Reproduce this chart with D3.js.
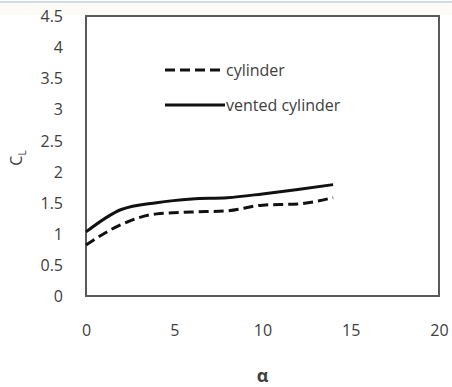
<!DOCTYPE html>
<html>
<head>
<meta charset="utf-8">
<script src="https://cdn.jsdelivr.net/npm/d3@7"></script>
<style>
  body { margin: 0; background: #fff; }
  svg text { font-family: "Open Sans", "Liberation Sans", sans-serif; fill: #404040; }
</style>
</head>
<body>
<svg width="452" height="387"></svg>
<script>
// angle of attack
const alpha = [0, 2, 4, 6, 8, 10, 12, 14];
const cylinder = [0.82, 1.15, 1.32, 1.35, 1.37, 1.46, 1.48, 1.58];
const ventedCylinder = [1.03, 1.39, 1.50, 1.56, 1.58, 1.64, 1.71, 1.79];
const xTicks = [0, 5, 10, 15, 20];
const yTicks = [0, 0.5, 1, 1.5, 2, 2.5, 3, 3.5, 4, 4.5];
const seriesNames = ['cylinder', 'vented cylinder'];

const svg = d3.select('svg');
const plotL = 86, plotR = 439, plotT = 16, plotB = 296;

// thin rule along the top edge
svg.append('rect').attr('x', 0).attr('y', 3).attr('width', 452).attr('height', 12).attr('fill', '#fdfbf7');
svg.append('line').attr('x1', 0).attr('x2', 452).attr('y1', 2).attr('y2', 2)
  .attr('stroke', '#c3cfdb').attr('stroke-width', 1.5);

const x = d3.scaleLinear().domain([0, 20]).range([plotL, plotR]);
const y = d3.scaleLinear().domain([0, 4.5]).range([plotB, plotT]);

svg.append('rect')
  .attr('x', plotL).attr('y', plotT)
  .attr('width', plotR - plotL).attr('height', plotB - plotT)
  .attr('fill', 'none').attr('stroke', '#5a5a5a').attr('stroke-width', 2);

const yAxis = svg.append('g')
  .attr('transform', `translate(${plotL - 20},0)`)
  .call(d3.axisLeft(y).tickValues(yTicks).tickSize(0).tickFormat(d => d));
yAxis.select('.domain').remove();
yAxis.selectAll('text').attr('font-size', 16).attr('dy', '0.35em');

const xAxis = svg.append('g')
  .attr('transform', `translate(0,${plotB + 26})`)
  .call(d3.axisBottom(x).tickValues(xTicks).tickSize(0));
xAxis.select('.domain').remove();
xAxis.selectAll('text').attr('font-size', 16).attr('dy', '0.71em');

svg.append('text').attr('x', x(10)).attr('y', 382)
  .attr('text-anchor', 'middle').attr('font-size', 18).attr('font-weight', 'bold')
  .text('α');

const yl = svg.append('text')
  .attr('transform', 'translate(22,158) rotate(-90)')
  .attr('text-anchor', 'middle').attr('font-size', 16);
yl.append('tspan').text('C');
yl.append('tspan').attr('font-size', 10).attr('dy', 4).text('L');

const line = d3.line()
  .x((d, i) => x(alpha[i]))
  .y(d => y(d))
  .curve(d3.curveMonotoneX);

svg.append('path').datum(cylinder)
  .attr('d', line).attr('fill', 'none')
  .attr('stroke', '#111').attr('stroke-width', 3)
  .attr('stroke-dasharray', '10,5');

svg.append('path').datum(ventedCylinder)
  .attr('d', line).attr('fill', 'none')
  .attr('stroke', '#111').attr('stroke-width', 3);

// legend
const legend = svg.append('g');
seriesNames.forEach((name, i) => {
  const ly = 70 + i * 35;
  legend.append('line')
    .attr('x1', 165).attr('x2', 225).attr('y1', ly).attr('y2', ly)
    .attr('stroke', '#111').attr('stroke-width', 3)
    .attr('stroke-dasharray', i === 0 ? '10,5' : null);
  legend.append('text').attr('x', 226).attr('y', ly).attr('dy', '0.35em')
    .attr('font-size', 16).text(name);
});
</script>
</body>
</html>
